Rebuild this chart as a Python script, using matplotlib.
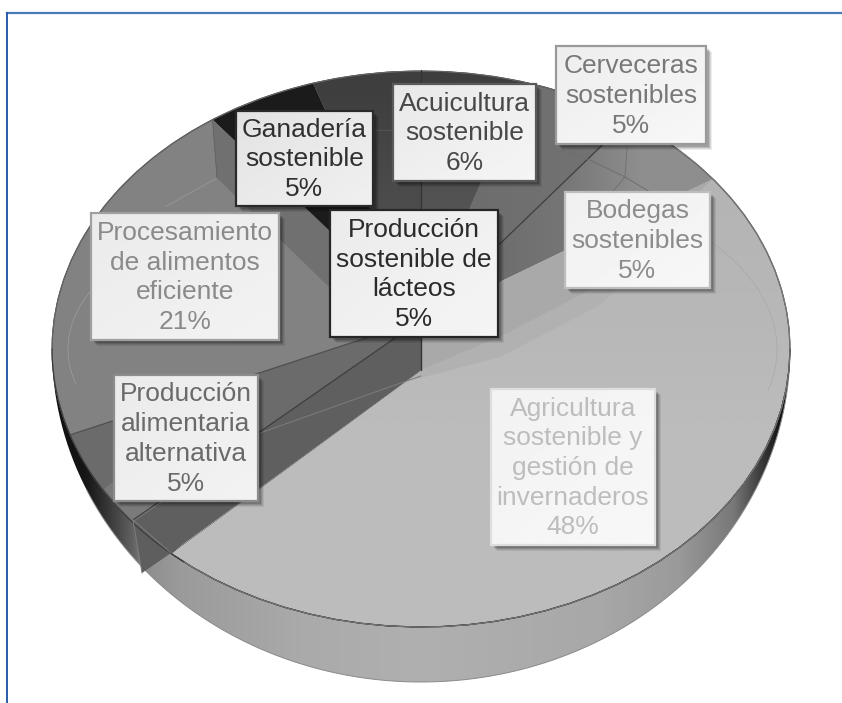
import numpy as np
import matplotlib
matplotlib.use('Agg')
import matplotlib.pyplot as plt
from matplotlib.colors import LinearSegmentedColormap
from matplotlib.patches import Polygon, Rectangle

# Data, clockwise from the upper right edge of the big slice
LABELS = ['Agricultura\nsostenible y\ngestión de\ninvernaderos\n48%',
          'Producción\nalimentaria\nalternativa\n5%',
          'Procesamiento\nde alimentos\neficiente\n21%',
          'Ganadería\nsostenible\n5%',
          'Producción\nsostenible de\nlácteos\n5%',
          'Acuicultura\nsostenible\n6%',
          'Cerveceras\nsostenibles\n5%',
          'Bodegas\nsostenibles\n5%']
SHARES = [48, 5, 21, 5, 5, 6, 5, 5]

# Slice styles
SLICE_COLORS = ['#bbbbbb', '#6b6b6b', '#828282', '#1b1b1b', '#424242', '#4c4c4c', '#6c6c6c', '#8a8a8a']
TEXT_COLORS = ['#bdbdbd', '#6a6a6a', '#8a8a8a', '#303030', '#2b2b2b', '#484848', '#787878', '#8c8c8c']
EDGE_COLORS = ['#dedede', '#8c8c8c', '#a0a0a0', '#2a2a2a', '#262626', '#5a5a5a', '#9a9a9a', '#bdbdbd']
BOX_LIGHT = [0.97, 0.95, 0.95, 0.94, 0.96, 0.96, 0.97, 0.97]
BOX_DARK = [0.95, 0.92, 0.92, 0.89, 0.92, 0.91, 0.93, 0.94]

# Label boxes: left, top, right, bottom in pixels
BOXES = [(491, 389, 655, 545), (114, 375, 258, 501), (91, 213, 279, 340), (236, 111, 373, 206),
         (330, 210, 498, 337), (393, 84, 536, 181), (556, 46, 706, 144), (565, 192, 710, 288)]

# Pie layout in pixels
CX, CY = 421, 349
RX, RY = 369, 278
DEPTH = 55
APEX = (421, 320)
WALL_FOOT = (421, 370)
START_ANGLE = 37.7
# The view is a perspective one, so the left edges sit a little off the true angle
EDGE_SKEW = [2.6, -8.9, -6.9, -6.3, -5.3, 0, 0, 0]

W, H = 842, 703
fig = plt.figure(figsize=(W / 100, H / 100), dpi=100)
ax = fig.add_axes([0, 0, 1, 1])
ax.set_xlim(0, W)
ax.set_ylim(H, 0)
ax.axis('off')


def rim(angle, depth=0):
    a = np.radians(angle)
    return CX + RX * np.cos(a), CY - (RY + depth) * np.sin(a)


def arc(a0, a1, depth=0):
    t = np.linspace(a0, a1, 120)
    x, y = rim(t, depth)
    return np.column_stack([x, y])


def shade(points, stops, vertical=False, z=1):
    # gradient clipped to a polygon, stops are (position, colour) in pixels
    points = np.asarray(points)
    if vertical:
        lo, hi = points[:, 1].min(), points[:, 1].max()
    else:
        lo, hi = points[:, 0].min(), points[:, 0].max()
    cols = [(min(max((p - lo) / (hi - lo), 0), 1), c) for p, c in stops]
    cols = [(0, cols[0][1])] + cols + [(1, cols[-1][1])]
    cols = sorted(dict(cols).items())
    cmap = LinearSegmentedColormap.from_list('g', cols)
    grad = np.linspace(0, 1, 256)
    grad = grad[:, None] if vertical else grad[None, :]
    im = ax.imshow(grad, cmap=cmap, vmin=0, vmax=1, aspect='auto', zorder=z, interpolation='bilinear',
                   extent=(points[:, 0].min(), points[:, 0].max(), points[:, 1].max(), points[:, 1].min()))
    clip = Polygon(points, closed=True, transform=ax.transData)
    im.set_clip_path(clip)


def line(points, color='#3c3c3c', lw=0.9, alpha=1.0, z=5):
    points = np.asarray(points)
    ax.plot(points[:, 0], points[:, 1], color=color, lw=lw, alpha=alpha, zorder=z, solid_capstyle='round')


# Slice edges from the shares
angles = [START_ANGLE]
for s in SHARES:
    angles.append(angles[-1] - s * 3.6)
edges = [a + k for a, k in zip(angles[1:], EDGE_SKEW)]
edges = [START_ANGLE] + edges

# Outer side of the pie
side = np.vstack([arc(180, 360), arc(360, 180, DEPTH)])
shade(side, [(53, '#101010'), (85, '#161616'), (110, '#3c3c3c'), (135, '#686868'), (142, '#8c8c8c'),
             (180, '#9b9b9b'), (300, '#aaaaaa'), (420, '#b0b0b0'), (600, '#a8a8a8'), (680, '#9a9a9a'),
             (735, '#787878'), (762, '#3c3c3c'), (782, '#141414'), (790, '#111111')], z=1)
line(arc(205, 360, DEPTH), color='#8a8a8a', lw=0.7, z=2)

# Top of every slice
for i in range(1, len(SHARES)):
    pts = np.vstack([[APEX], arc(edges[i], edges[i + 1])])
    ax.add_patch(Polygon(pts, closed=True, fc=SLICE_COLORS[i], ec='none', zorder=2))

# Shaded slices: lácteos and acuicultura darken upward
lact = np.vstack([[APEX], arc(edges[4], edges[5])])
shade(lact, [(85, '#3e3e3e'), (320, '#5a5a5a')], vertical=True, z=2.1)
acui = np.vstack([[APEX], arc(edges[5], edges[6])])
shade(acui, [(75, '#3e3e3e'), (230, '#585858')], vertical=True, z=2.1)
cerv = np.vstack([[APEX], arc(edges[6], edges[7])])
shade(cerv, [(440, '#6c6c6c'), (640, '#747474')], z=2.1)
bod = np.vstack([[APEX], arc(edges[7], edges[8])])
shade(bod, [(430, '#666666'), (560, '#757575'), (640, '#8e8e8e'), (710, '#8e8e8e')], z=2.1)

# Ganadería: black top with a grey inner wall beside it
wall = [rim(edges[3]), (217, 178), (330, 288), (331, 232)]
ax.add_patch(Polygon(wall, closed=True, fc='#707070', ec='none', zorder=3))
ax.add_patch(Polygon([(331, 232), (330, 288), APEX], closed=True, fc='#6a6a6a', ec='none', zorder=2.2))

# Alimentaria floor and the small facets at the lower left
floor = [(133, 520), (395, 338), APEX, WALL_FOOT, (171, 553)]
ax.add_patch(Polygon(floor, closed=True, fc='#5f5f5f', ec='none', zorder=3))
ax.add_patch(Polygon([(133, 520), (142, 573), (171, 553)], closed=True, fc='#5e5e5e', ec='none', zorder=3))
ax.add_patch(Polygon([(104, 489), (118, 478), (168, 498), (133, 522)], closed=True, fc='#7a7a7a', ec='none', zorder=3))

# The big slice sits on top with its vertical inner wall
big = np.vstack([[WALL_FOOT], [APEX], arc(edges[0], edges[1])])
shade(big, [(178, '#b4b4b4'), (330, '#b8b8b8'), (420, '#bcbcbc'), (626, '#bcbcbc')], vertical=True, z=4)
ax.add_patch(Polygon([APEX, WALL_FOOT, (500, 337), (600, 285), rim(edges[0])], closed=True,
                     fc='#a9a9a9', ec='none', zorder=4.1))
ax.add_patch(Polygon([WALL_FOOT, (405, 382), (500, 357), (600, 305), (655, 255), (600, 285), (500, 337)], closed=True,
                     fc='#b1b1b1', ec='none', zorder=4.1))

# Edge lines
line(arc(edges[1], 360), color='#555555', lw=0.9)
line(arc(edges[0], edges[8]), color='#777777', lw=0.6)
line(arc(180, 230), color='#333333', lw=0.7)
line(arc(0, 60), color='#777777', lw=0.7)
line(arc(60, 180), color='#555555', lw=0.5, alpha=0.7)
line([rim(edges[2]), APEX], color='#4e4e4e', lw=0.9)
line([APEX, rim(edges[7])], color='#3e3e3e', lw=0.9)
line([(133, 520), (395, 338)], color='#3e3e3e', lw=0.9)
line([(133, 520), (142, 573)], color='#7c7c7c', lw=0.7)
line([(133, 520), (171, 553)], color='#808080', lw=0.6)
line([(421, 70), (421, 370)], color='#353535', lw=1.0)
line([WALL_FOOT, (172, 553)], color='#555555', lw=0.5)
line([(260, 433), (395, 385), (421, 376)], color='#7c7c7c', lw=0.7)
line([(373, 130), (393, 130)], color='#555555', lw=0.6)
line([(217, 178), (165, 207)], color='#959595', lw=0.7)
line([rim(edges[3]), (217, 178)], color='#5c5c5c', lw=0.5)
line([(537, 143), (590, 160), (625, 177), (650, 192)], color='#6e6e6e', lw=0.7)
line([(627, 147), (625, 177), (565, 247)], color='#6e6e6e', lw=0.6)

# Faint inner rim of the floor
t = np.radians(np.linspace(35, -13, 60))
line(np.column_stack([CX + 356 * np.cos(t), CY - 185 * np.sin(t)]), color='#a8a8a8', lw=0.5)
t = np.radians(np.linspace(158, 192, 40))
line(np.column_stack([CX + 353 * np.cos(t), CY - 165 * np.sin(t)]), color='#9a9a9a', lw=0.6)

# Label boxes with a soft shadow
for i, (l, t_, r, b) in enumerate(BOXES):
    for off, al in [(6, 0.07), (5, 0.09), (4, 0.12), (3, 0.15)]:
        ax.add_patch(Rectangle((l + off, t_ + off), r - l, b - t_, fc='black', ec='none', alpha=al, zorder=6))
    g = np.linspace(BOX_LIGHT[i], BOX_DARK[i], 64)
    cm = np.add.outer(g, g[::-1]) / 2
    ax.imshow(cm[::-1], cmap='gray', vmin=0, vmax=1, aspect='auto', extent=(l, r, b, t_), zorder=7, interpolation='bilinear')
    ax.add_patch(Rectangle((l, t_), r - l, b - t_, fc='none', ec=EDGE_COLORS[i], lw=1.6, zorder=8))
    ax.text((l + r) / 2, (t_ + b) / 2 + 1, LABELS[i], ha='center', va='center', color=TEXT_COLORS[i],
            fontsize=19, family='Liberation Sans', linespacing=1.3, zorder=9)

# Blue page frame
ax.plot([7, W], [13, 13], color='#4a7ab8', lw=1.6, zorder=10)
ax.plot([7, 7], [13, H], color='#2a5ca8', lw=1.4, zorder=10)

ax.set_xlim(0, W)
ax.set_ylim(H, 0)
fig.savefig('out.png', dpi=100)
